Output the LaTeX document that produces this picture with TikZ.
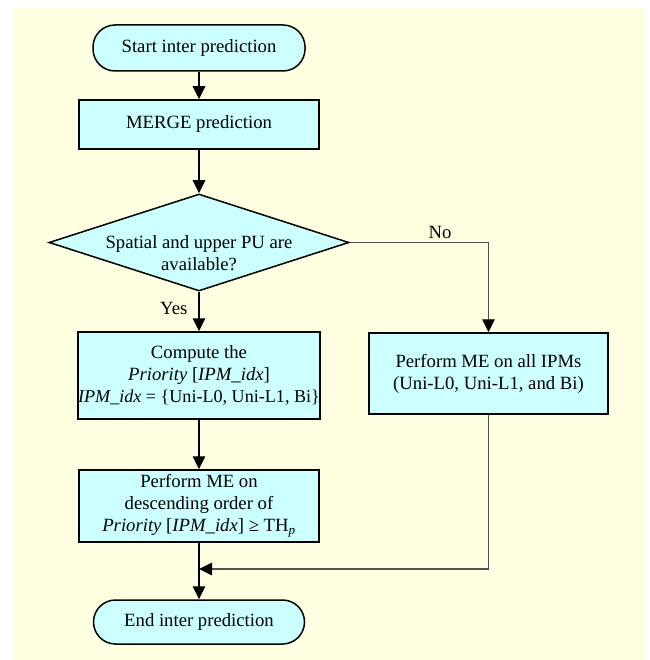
\documentclass[tikz,border=0pt]{standalone}
\usepackage{fontspec}
\setmainfont{Liberation Serif}
\usetikzlibrary{arrows.meta,shapes.geometric}
\definecolor{bgyel}{RGB}{255,255,225}
\definecolor{boxcyan}{RGB}{204,255,255}
\definecolor{linegray}{RGB}{80,80,80}
\begin{document}
\begin{tikzpicture}[x=1pt,y=-1pt,
  txt/.style={font=\fontsize{18.7}{22}\selectfont, align=center},
  box/.style={txt, draw=black, fill=boxcyan, line width=1.5pt, inner sep=0pt},
  term/.style={box, rounded corners=22pt},
  dec/.style={box, shape=diamond},
  flow/.style={line width=1.2pt, -{Triangle[length=13pt,width=12.5pt,black]}},
  flowg/.style={flow, draw=linegray},
  lbl/.style={txt, inner sep=0pt}]
\useasboundingbox (0,0) rectangle (649,660);
\fill[bgyel] (13,7) rectangle (646,660);

\node[term, minimum width=212pt, minimum height=46pt] (start) at (199,48) {Start inter prediction};
\node[box, minimum width=240pt, minimum height=49pt] (merge) at (199,124.5) {MERGE prediction};
\node[dec, minimum width=300pt, minimum height=97pt] (cond) at (199,242.5) {};
\node[lbl] (condtext) at (199,253) {Spatial and upper PU are\\available?};
\node[box, minimum width=240pt, minimum height=87pt] (comp) at (199,375.5)
  {Compute the\\\textit{Priority} [\textit{IPM\_idx}]\\{\fontsize{18.1}{22}\selectfont\textit{IPM\_idx} = \{Uni-L0, Uni-L1, Bi\}}};
\node[box, minimum width=240pt, minimum height=72pt] (perf) at (199,506)
  {Perform ME on\\descending order of\\\textit{Priority} [\textit{IPM\_idx}] ≥ TH\textsubscript{\textit{p}}};
\node[box, minimum width=239pt, minimum height=81pt] (allme) at (488.5,373.5)
  {Perform ME on all IPMs\\(Uni-L0, Uni-L1, and Bi)};
\node[term, minimum width=211pt, minimum height=44pt] (end) at (199,622) {End inter prediction};
\coordinate (join) at (199,569);

\draw[flow] (start) -- (merge);
\draw[flow] (merge) -- (cond);
\draw[flow] (cond.south) -- node[lbl, pos=0.42, left=11pt] {Yes} (comp);
\draw[flowg] (cond.east) -| node[lbl, pos=0.325, above=3pt] {No} (allme.north);
\draw[flow] (comp) -- (perf);
\draw[flow] (perf) -- (end);
\draw[flowg] (allme.south) |- (join);
\end{tikzpicture}
\end{document}
